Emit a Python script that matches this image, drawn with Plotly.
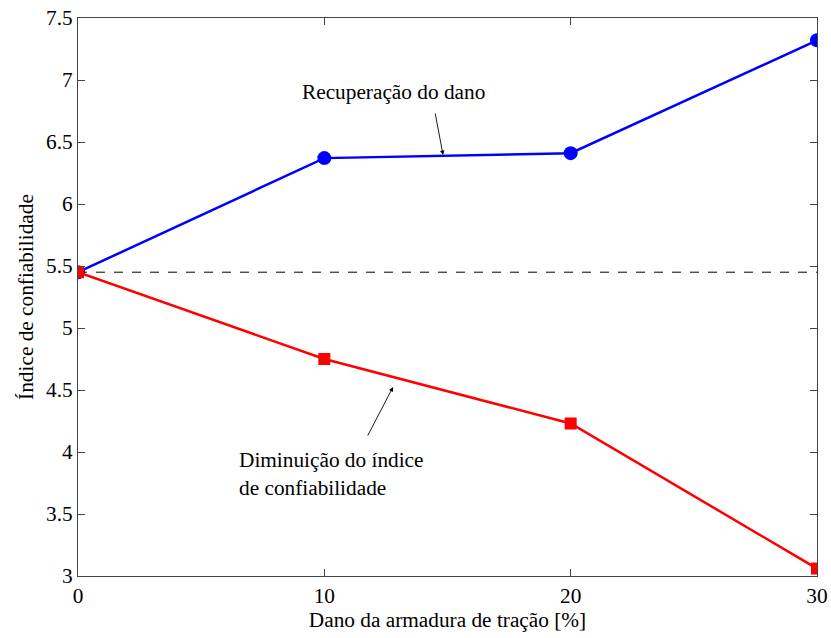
import plotly.graph_objects as go

x_vals = [0, 10, 20, 30]
recuperacao = [5.45, 6.37, 6.41, 7.32]
diminuicao = [5.45, 4.75, 4.23, 3.06]
baseline = 5.45
x_ticks = [0, 10, 20, 30]
y_ticks = [3, 3.5, 4, 4.5, 5, 5.5, 6, 6.5, 7, 7.5]
y_tick_text = ["3", "3.5", "4", "4.5", "5", "5.5", "6", "6.5", "7", "7.5"]

FONT = "Liberation Serif"
FS = 21.3
f = dict(family=FONT, size=FS, color="black")

fig = go.Figure()
fig.add_trace(go.Scatter(x=[0, 30], y=[baseline, baseline], mode="lines",
                         line=dict(color="black", width=1, dash="dash"),
                         showlegend=False, hoverinfo="skip"))
fig.add_trace(go.Scatter(x=x_vals, y=recuperacao, mode="lines+markers",
                         line=dict(color="#0000ff", width=2.5),
                         marker=dict(symbol="circle", size=14, color="#0000ff"),
                         showlegend=False))
fig.add_trace(go.Scatter(x=x_vals, y=diminuicao, mode="lines+markers",
                         line=dict(color="#ff0000", width=2.5),
                         marker=dict(symbol="square", size=12, color="#ff0000"),
                         showlegend=False))

fig.add_annotation(x=12.79, y=6.90, text="Recuperação do dano", showarrow=False, font=f)
fig.add_annotation(x=14.82, y=6.395, ax=14.49, ay=6.742, axref="x", ayref="y",
                   showarrow=True, arrowhead=2, arrowsize=1, arrowwidth=0.9, arrowcolor="black", text="")
fig.add_annotation(x=6.47, y=3.823, text="Diminuição do índice<br>de confiabilidade",
                   showarrow=False, xanchor="left", align="left", font=f)
fig.add_annotation(x=12.79, y=4.524, ax=11.73, ay=4.121, axref="x", ayref="y",
                   showarrow=True, arrowhead=2, arrowsize=1, arrowwidth=0.9, arrowcolor="black", text="")

fig.update_layout(
    width=831, height=638,
    margin=dict(l=78, r=14, t=18, b=62),
    plot_bgcolor="white", paper_bgcolor="white",
    font=f,
    xaxis=dict(range=[0, 30], tickvals=x_ticks, ticks="inside", ticklen=7,
               tickfont=f, automargin=False,
               showgrid=False, zeroline=False, showline=True, linecolor="#444",
               mirror="ticks",
               title=dict(text="Dano da armadura de tração [%]", standoff=5, font=f)),
    yaxis=dict(range=[3, 7.5], tickvals=y_ticks, ticktext=y_tick_text, ticks="inside", ticklen=7,
               tickfont=f, automargin=False,
               showgrid=False, zeroline=False, showline=True, linecolor="#444",
               mirror="ticks",
               title=dict(text="Índice de confiabilidade", standoff=6, font=f)),
)

fig.write_html("out.html")
